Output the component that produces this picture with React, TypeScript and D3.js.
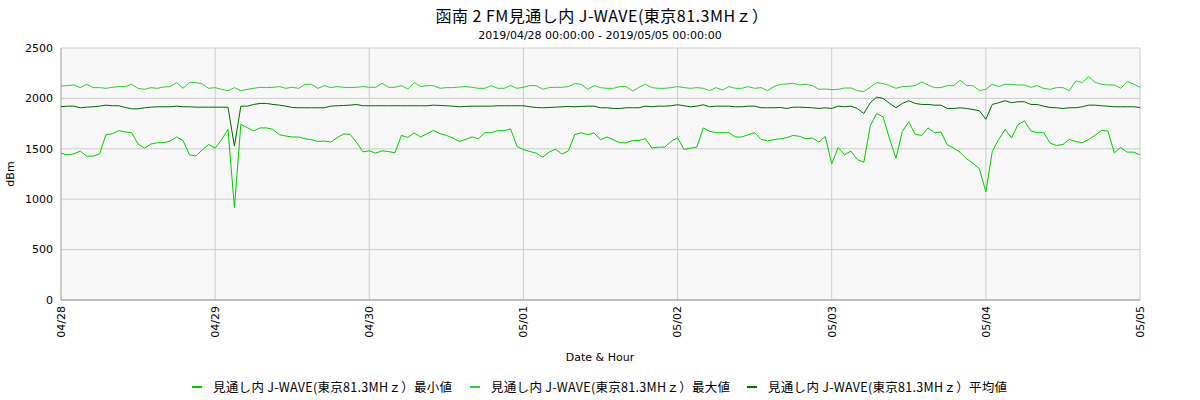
import { scaleLinear, line, range } from 'd3'

// hourly readings, 2019/04/28 00:00 .. 2019/05/05 00:00 (169 points)
const minValues = [
  1457, 1440, 1450, 1477, 1427, 1427, 1450, 1640, 1650, 1680, 1667, 1660, 1547, 1507, 1547, 1560, 1560, 1577, 1617, 1583, 1440, 1430, 1490, 1543, 1507, 1590, 1693, 917, 1743,
  1710, 1677, 1707, 1707, 1693, 1640, 1627, 1617, 1617, 1600, 1590, 1573, 1577, 1567, 1610, 1647, 1643, 1567, 1470, 1480, 1457, 1480, 1473, 1460, 1633, 1613, 1657, 1617,
  1650, 1683, 1650, 1633, 1607, 1573, 1593, 1617, 1600, 1660, 1660, 1680, 1680, 1697, 1523, 1493, 1473, 1457, 1417, 1467, 1497, 1447, 1480, 1640, 1660, 1640, 1657, 1590,
  1617, 1590, 1560, 1560, 1583, 1583, 1600, 1507, 1517, 1517, 1573, 1610, 1493, 1507, 1517, 1707, 1673, 1660, 1660, 1660, 1617, 1617, 1640, 1660, 1593, 1580, 1590, 1600,
  1610, 1633, 1623, 1600, 1607, 1567, 1623, 1350, 1513, 1440, 1477, 1393, 1367, 1727, 1850, 1817, 1600, 1407, 1673, 1767, 1643, 1633, 1707, 1660, 1667, 1540, 1507, 1465,
  1400, 1357, 1300, 1073, 1473, 1593, 1693, 1607, 1740, 1777, 1677, 1660, 1660, 1557, 1533, 1543, 1593, 1573, 1560, 1593, 1633, 1683, 1677, 1460, 1513, 1467, 1467, 1440,
]

const maxValues = [
  2123, 2127, 2133, 2107, 2140, 2107, 2107, 2100, 2110, 2117, 2117, 2140, 2100, 2090, 2107, 2100, 2113, 2117, 2157, 2100, 2157, 2157, 2143, 2100, 2107, 2090, 2077, 2107, 2077,
  2090, 2100, 2110, 2107, 2110, 2117, 2100, 2110, 2100, 2140, 2140, 2100, 2127, 2107, 2117, 2110, 2107, 2110, 2117, 2110, 2110, 2150, 2110, 2110, 2127, 2093, 2157, 2117,
  2127, 2127, 2100, 2107, 2107, 2113, 2117, 2110, 2100, 2100, 2127, 2100, 2100, 2127, 2100, 2110, 2127, 2127, 2090, 2107, 2110, 2110, 2117, 2147, 2140, 2090, 2127, 2107,
  2100, 2100, 2117, 2117, 2073, 2110, 2140, 2107, 2100, 2100, 2107, 2117, 2107, 2100, 2107, 2100, 2077, 2107, 2083, 2117, 2100, 2100, 2117, 2100, 2107, 2077, 2117, 2140,
  2143, 2150, 2133, 2140, 2127, 2090, 2093, 2087, 2090, 2103, 2103, 2077, 2067, 2110, 2157, 2147, 2127, 2100, 2117, 2120, 2127, 2163, 2133, 2107, 2107, 2127, 2127, 2180,
  2127, 2127, 2077, 2090, 2140, 2117, 2140, 2140, 2133, 2133, 2110, 2127, 2100, 2090, 2107, 2107, 2077, 2173, 2157, 2217, 2160, 2140, 2133, 2133, 2100, 2167, 2143, 2110,
]

const meanValues = [
  1917, 1923, 1923, 1907, 1913, 1917, 1923, 1933, 1927, 1927, 1910, 1897, 1897, 1907, 1913, 1917, 1917, 1917, 1923, 1917, 1917, 1913, 1913, 1913, 1913, 1913, 1913, 1527, 1923,
  1923, 1940, 1950, 1950, 1940, 1933, 1923, 1910, 1907, 1907, 1907, 1907, 1907, 1923, 1927, 1930, 1933, 1940, 1927, 1927, 1927, 1927, 1927, 1927, 1927, 1927, 1927, 1927,
  1927, 1933, 1930, 1927, 1923, 1917, 1920, 1923, 1923, 1923, 1923, 1927, 1927, 1927, 1927, 1927, 1917, 1910, 1907, 1910, 1913, 1917, 1920, 1917, 1920, 1923, 1923, 1907,
  1907, 1900, 1900, 1907, 1907, 1907, 1923, 1917, 1923, 1923, 1927, 1937, 1927, 1917, 1923, 1937, 1917, 1923, 1923, 1923, 1917, 1917, 1923, 1923, 1907, 1907, 1907, 1910,
  1900, 1913, 1913, 1910, 1907, 1900, 1907, 1900, 1923, 1917, 1923, 1900, 1850, 1957, 2013, 2000, 1950, 1907, 1950, 1977, 1950, 1940, 1940, 1933, 1933, 1900, 1900, 1907,
  1900, 1890, 1877, 1793, 1940, 1957, 1977, 1957, 1967, 1967, 1940, 1940, 1923, 1910, 1907, 1900, 1907, 1907, 1917, 1933, 1933, 1927, 1923, 1917, 1917, 1917, 1917, 1910,
]

const dayLabels = ['04/28', '04/29', '04/30', '05/01', '05/02', '05/03', '05/04', '05/05']
const yTicks = [0, 500, 1000, 1500, 2000, 2500]

const seriesNames = [
  '見通し内 J-WAVE(東京81.3MHｚ）最小値',
  '見通し内 J-WAVE(東京81.3MHｚ）最大値',
  '見通し内 J-WAVE(東京81.3MHｚ）平均値',
]
const seriesColors = ['#00cc00', '#33cc33', '#006600']

const title = '函南 2 FM見通し内 J-WAVE(東京81.3MHｚ）'
const subtitle = '2019/04/28 00:00:00 - 2019/05/05 00:00:00'

const W = 1200
const H = 400
const left = 61
const right = 1140
const top = 48
const bottom = 300

const jp = '"Noto Sans CJK JP", sans-serif'
const sans = '"DejaVu Sans", sans-serif'

export default function App() {
  const x = scaleLinear().domain([0, 168]).range([left, right])
  const y = scaleLinear().domain([0, 2500]).range([bottom, top])

  const path = line<number>()
    .x((_, i) => x(i))
    .y((d) => y(d))

  const series = [minValues, maxValues, meanValues]
  const legendX = [192, 470, 747]

  return (
    <svg width={W} height={H} style={{ position: 'absolute', left: 0, top: 0, background: '#fff' }}>
      <text x={602} y={22} textAnchor="middle" fontFamily={jp} fontSize={16} letterSpacing={0.5} fill="#000">
        {title}
      </text>
      <text x={600} y={39} textAnchor="middle" fontFamily={sans} fontSize={11} fill="#000">
        {subtitle}
      </text>

      <rect x={left} y={top} width={right - left} height={bottom - top} fill="#f8f8f8" />

      {/* grid */}
      {yTicks.map((t) => (
        <line key={'gy' + t} x1={left} x2={right} y1={y(t)} y2={y(t)} stroke="#cccccc" />
      ))}
      {range(1, 8).map((d) => (
        <line key={'gx' + d} x1={x(d * 24)} x2={x(d * 24)} y1={top} y2={bottom} stroke="#cccccc" />
      ))}

      {/* axis lines */}
      <line x1={left} x2={left} y1={top} y2={bottom} stroke="#999" />
      <line x1={left} x2={right} y1={bottom} y2={bottom} stroke="#999" />

      {yTicks.map((t) => (
        <text key={'yl' + t} x={53} y={y(t)} dy="0.35em" textAnchor="end" fontFamily={sans} fontSize={11} fill="#000">
          {t}
        </text>
      ))}
      <text transform={`translate(14, ${(top + bottom) / 2}) rotate(-90)`} textAnchor="middle" fontFamily={sans} fontSize={11} fill="#000">
        dBm
      </text>

      {dayLabels.map((lab, i) => (
        <text
          key={lab}
          transform={`translate(${x(i * 24)}, 306) rotate(-90)`}
          dy="0.35em"
          textAnchor="end"
          fontFamily={sans}
          fontSize={11}
          fill="#000"
        >
          {lab}
        </text>
      ))}
      <text x={600} y={361} textAnchor="middle" fontFamily={sans} fontSize={11} fill="#000">
        Date &amp; Hour
      </text>

      {series.map((s, i) => (
        <path key={'s' + i} d={path(s) ?? ''} fill="none" stroke={seriesColors[i]} strokeWidth={1} />
      ))}

      {seriesNames.map((name, i) => (
        <g key={'lg' + i}>
          <line x1={legendX[i]} x2={legendX[i] + 10} y1={387} y2={387} stroke={seriesColors[i]} strokeWidth={2} />
          <text x={legendX[i] + 21} y={388} dy="0.35em" fontFamily={jp} fontSize={12.5} letterSpacing={0.3} fill="#000">
            {name}
          </text>
        </g>
      ))}
    </svg>
  )
}
